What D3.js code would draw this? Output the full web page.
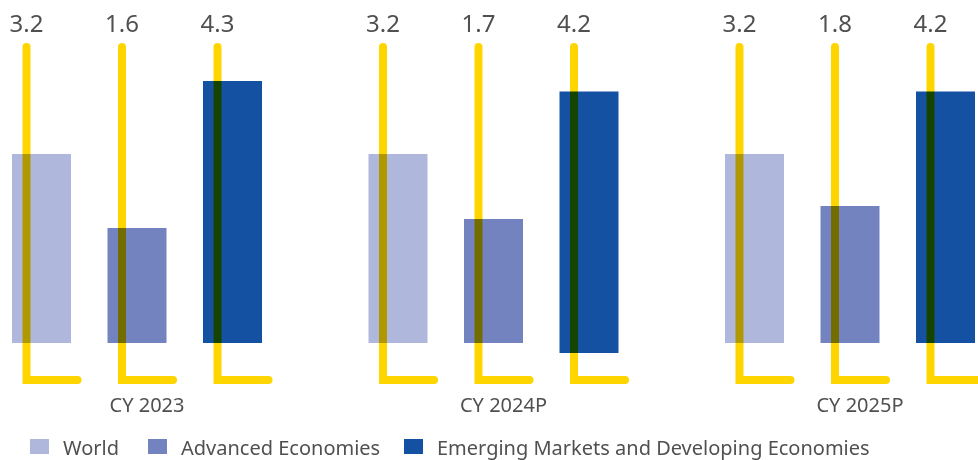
<!DOCTYPE html>
<html>
<head>
<meta charset="utf-8">
<script src="https://cdn.jsdelivr.net/npm/d3@7"></script>
<style>
  body { margin: 0; background: #fff; }
  svg { display: block; font-family: "Segoe UI", "Noto Sans", sans-serif; }
  .bar { mix-blend-mode: multiply; }
  .val { font-size: 24px; fill: #505050; }
  .grp { font-size: 20px; fill: #505050; }
  .leg { font-size: 20px; fill: #505050; }
</style>
</head>
<body>
<div id="chart"></div>
<script>
var width = 978, height = 460;

var groups = ["CY 2023", "CY 2024P", "CY 2025P"];
var series = ["World", "Advanced Economies", "Emerging Markets and Developing Economies"];
var world = [3.2, 3.2, 3.2];
var advanced = [1.6, 1.7, 1.8];
var emerging = [4.3, 4.2, 4.2];
var colors = ["#b0b7dc", "#7383c0", "#1551a3"];

// the 2024 emerging bar runs a little below the baseline in the original
var drop = {"CY 2024P": 10};

var data = [];
groups.forEach(function(g, i) {
  [world, advanced, emerging].forEach(function(arr, j) {
    data.push({group: g, series: series[j], value: arr[i], color: colors[j]});
  });
});

var svg = d3.select("#chart").append("svg")
  .attr("width", width)
  .attr("height", height);

var x0 = d3.scalePoint()
  .domain(groups)
  .range([12, 725]);

var x1 = d3.scalePoint()
  .domain(series)
  .range([0, 191]);

var barW = 59;

// bars are not drawn on one linear axis in the source; piecewise scale
var y = d3.scaleLinear()
  .domain([0, 1.6, 1.7, 1.8, 3.2, 4.2, 4.3])
  .range([343, 228, 219, 206, 154, 91.5, 81]);

function barX(d) { return x0(d.group) + x1(d.series); }
function lineX(d) { return barX(d) + 14.5; }

// yellow L markers
svg.selectAll(".mark")
  .data(data)
  .enter().append("path")
  .attr("class", "mark")
  .attr("d", function(d) {
    var lx = lineX(d);
    return "M" + lx + ",47V380H" + (lx + 51);
  })
  .attr("fill", "none")
  .attr("stroke", "#ffd500")
  .attr("stroke-width", 8)
  .attr("stroke-linecap", "round")
  .attr("stroke-linejoin", "miter");

svg.selectAll(".bar")
  .data(data)
  .enter().append("rect")
  .attr("class", "bar")
  .attr("x", barX)
  .attr("width", barW)
  .attr("y", function(d) { return y(d.value); })
  .attr("height", function(d) {
    var off = d.series === series[2] ? (drop[d.group] || 0) : 0;
    return y(0) - y(d.value) + off;
  })
  .attr("fill", function(d) { return d.color; });

svg.selectAll(".val")
  .data(data)
  .enter().append("text")
  .attr("class", "val")
  .attr("x", lineX)
  .attr("y", 32)
  .attr("text-anchor", "middle")
  .text(function(d) { return d3.format(".1f")(d.value); });

svg.selectAll(".grp")
  .data(groups)
  .enter().append("text")
  .attr("class", "grp")
  .attr("x", function(d) { return x0(d) + 135; })
  .attr("y", 412)
  .attr("text-anchor", "middle")
  .text(function(d) { return d; });

// legend
var legX = [30, 148, 404];
var leg = svg.selectAll(".legItem")
  .data(series)
  .enter().append("g")
  .attr("class", "legItem")
  .attr("transform", function(d, i) { return "translate(" + legX[i] + ",439)"; });

leg.append("rect")
  .attr("width", 19)
  .attr("height", 15)
  .attr("fill", function(d, i) { return colors[i]; });

leg.append("text")
  .attr("class", "leg")
  .attr("x", 33)
  .attr("y", 16)
  .text(function(d) { return d; });
</script>
</body>
</html>
